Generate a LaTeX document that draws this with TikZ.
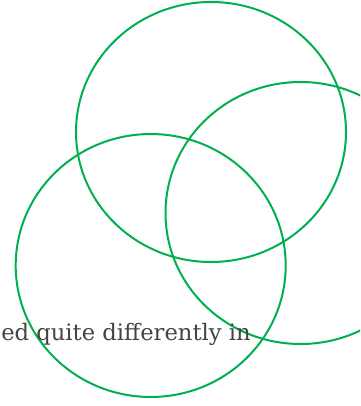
\documentclass[tikz,border=0pt]{standalone}
\usepackage{fontspec}
\setmainfont{DejaVu Serif}
\usepackage{tikz}
\definecolor{venngreen}{HTML}{00B050}
\definecolor{inkgray}{HTML}{444444}

\begin{document}
\begin{tikzpicture}[
  x=0.75pt, y=-0.75pt,
  ring/.style={draw=venngreen, line width=1.5pt},
  caption/.style={font=\fontsize{17}{20}\selectfont, text=inkgray, inner sep=0pt, anchor=base west}
]
\useasboundingbox (0,0) rectangle (360,406);
\clip (0,0) rectangle (360,406);

% three overlapping rings
\draw[ring] (211,132) ellipse [x radius=101.25pt, y radius=97.5pt];
\draw[ring] (300.5,213) ellipse [x radius=101.25pt, y radius=98.25pt];
\draw[ring] (150.7,265.5) ellipse [x radius=101.25pt, y radius=98.6pt];

\node[caption] (txt) at (1,340) {ed quite differently in};

\end{tikzpicture}
\end{document}
